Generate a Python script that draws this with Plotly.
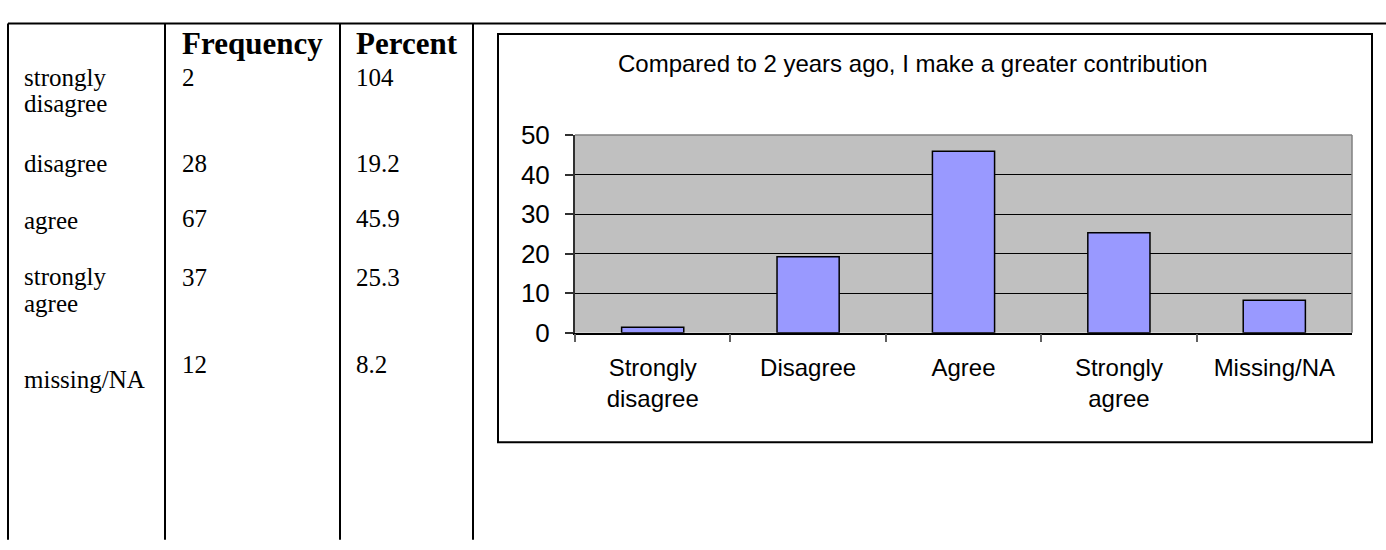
import plotly.graph_objects as go

# ---------------- data ----------------
row_labels = [["strongly", "disagree"], ["disagree"], ["agree"], ["strongly", "agree"], ["missing/NA"]]
frequency = ["2", "28", "67", "37", "12"]
percent_text = ["104", "19.2", "45.9", "25.3", "8.2"]
header_labels = ["Frequency", "Percent"]

chart_title = "Compared to 2 years ago, I make a greater contribution"
chart_categories = ["Strongly<br>disagree", "Disagree", "Agree", "Strongly<br>agree", "Missing/NA"]
chart_values = [1.4, 19.2, 45.9, 25.3, 8.2]
y_ticks = [0, 10, 20, 30, 40, 50]

# ---------------- layout helpers ----------------
W, H = 1386, 550


def px(x):
    return x / W


def py(y):
    return 1 - y / H


SERIF = "Liberation Serif, Times New Roman, serif"
SANS = "Liberation Sans, Arial, sans-serif"

label_line_y = [[66, 94], [157], [217], [277, 305], [385]]
value_y = [66, 157, 215, 278, 370]
col_x = [22, 180, 354]
table_top = 9
table_vlines = [8, 165, 340, 473]

plot_l, plot_r, plot_t, plot_b = 575, 1352, 127, 336
box = (498, 20, 1372, 452)

fig = go.Figure()

fig.add_trace(go.Bar(
    x=chart_categories,
    y=chart_values,
    marker=dict(color="#9999FF", line=dict(color="black", width=1.5)),
    width=0.4,
    showlegend=False,
    hoverinfo="x+y",
))

shapes = []
# table lines
shapes.append(dict(type="line", xref="paper", yref="paper",
                   x0=px(table_vlines[0]), x1=1, y0=py(table_top), y1=py(table_top),
                   line=dict(color="black", width=2)))
for vx in table_vlines:
    shapes.append(dict(type="line", xref="paper", yref="paper",
                       x0=px(vx), x1=px(vx), y0=py(table_top), y1=py(H + 5),
                       line=dict(color="black", width=2)))
# chart box
shapes.append(dict(type="rect", xref="paper", yref="paper",
                   x0=px(box[0]), x1=px(box[2]), y0=py(box[3]), y1=py(box[1]),
                   line=dict(color="black", width=2), layer="below"))
# plot area border (gray) top & right
shapes.append(dict(type="line", xref="x domain", yref="y domain", x0=0, x1=1, y0=1, y1=1,
                   line=dict(color="#808080", width=1.5)))
shapes.append(dict(type="line", xref="x domain", yref="y domain", x0=1, x1=1, y0=0, y1=1,
                   line=dict(color="#808080", width=1.5)))

annotations = []
for i, h in enumerate(header_labels):
    annotations.append(dict(x=px(col_x[i + 1]), y=py(30), xref="paper", yref="paper",
                            text="<b>" + h + "</b>", showarrow=False, xanchor="left", yanchor="middle",
                            font=dict(family=SERIF, size=31, color="black")))
for i, lines in enumerate(row_labels):
    for j, t in enumerate(lines):
        annotations.append(dict(x=px(col_x[0]), y=py(label_line_y[i][j]), xref="paper", yref="paper",
                                text=t, showarrow=False, xanchor="left", yanchor="middle",
                                font=dict(family=SERIF, size=25, color="black")))
    annotations.append(dict(x=px(col_x[1]), y=py(value_y[i]), xref="paper", yref="paper",
                            text=frequency[i], showarrow=False, xanchor="left", yanchor="middle",
                            font=dict(family=SERIF, size=25, color="black")))
    annotations.append(dict(x=px(col_x[2]), y=py(value_y[i]), xref="paper", yref="paper",
                            text=percent_text[i], showarrow=False, xanchor="left", yanchor="middle",
                            font=dict(family=SERIF, size=25, color="black")))
annotations.append(dict(x=px(913), y=py(51), xref="paper", yref="paper", text=chart_title,
                        showarrow=False, xanchor="center", yanchor="middle",
                        font=dict(family=SANS, size=24, color="black")))

fig.update_layout(
    width=W, height=H,
    margin=dict(l=0, r=0, t=0, b=0),
    paper_bgcolor="white",
    plot_bgcolor="#C0C0C0",
    shapes=shapes,
    annotations=annotations,
    bargap=0.6,
    xaxis=dict(
        domain=[px(plot_l), px(plot_r)],
        type="category",
        tickson="boundaries",
        ticks="outside", ticklen=8, tickcolor="#606060", tickwidth=1.5,
        showline=True, linecolor="black", linewidth=1.5,
        showgrid=False,
        tickfont=dict(family=SANS, size=24, color="black"),
        ticklabelstandoff=13,
        fixedrange=True,
    ),
    yaxis=dict(
        domain=[py(plot_b), py(plot_t)],
        range=[0, 50],
        tickvals=y_ticks,
        ticks="outside", ticklen=8, tickcolor="#303030", tickwidth=1.5,
        showline=True, linecolor="#303030", linewidth=2,
        showgrid=True, gridcolor="black", gridwidth=1,
        zeroline=False,
        tickfont=dict(family=SANS, size=26, color="black"),
        ticklabelstandoff=10,
        fixedrange=True,
    ),
)

fig.write_html("out.html")
